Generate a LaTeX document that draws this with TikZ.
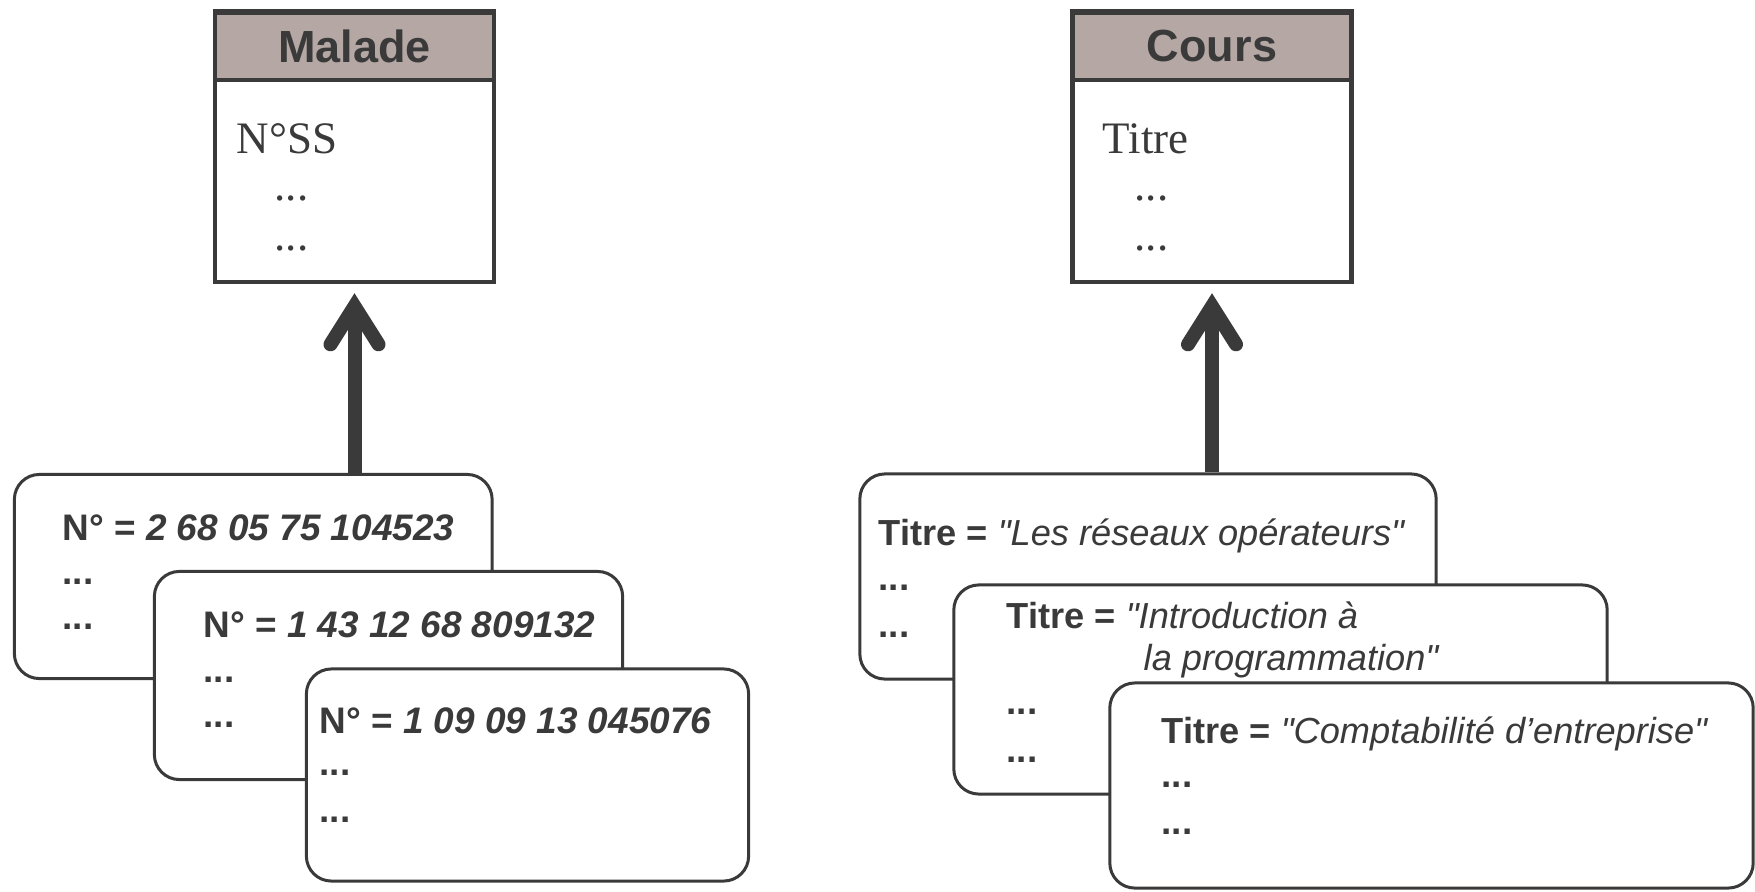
\documentclass[tikz,border=0pt]{standalone}
\usepackage{fontspec}
\setmainfont{Liberation Serif}
\setsansfont{Liberation Sans}[Ligatures=TeXOff]
\usetikzlibrary{calc}
\definecolor{ink}{RGB}{58,58,58}
\definecolor{head}{RGB}{180,167,164}
\begin{document}
\begin{tikzpicture}[x=0.01cm,y=-0.01cm,
 classbox/.style={draw=ink, line width=0.045cm, fill=white, inner sep=0, minimum width=2.79cm, minimum height=2.71cm},
 classhead/.style={draw=ink, line width=0.045cm, fill=head, inner sep=0, minimum width=2.79cm, minimum height=0.67cm, font=\sffamily\bfseries\fontsize{12.8}{14}\selectfont, text=ink},
 card/.style={draw=ink, line width=0.03cm, fill=white, rounded corners=0.25cm, inner sep=0},
 cardtext/.style={anchor=base west, inner sep=0, font=\sffamily\fontsize{10.5}{12}\selectfont, text=ink},
 titletext/.style={anchor=base west, inner sep=0, font=\sffamily\fontsize{10.3}{12}\selectfont, text=ink},
 attr/.style={anchor=base west, inner sep=0, font=\fontsize{12.8}{14}\selectfont, text=ink},
 shaft/.style={draw=ink, line width=0.14cm},
 barb/.style={draw=ink, line width=0.14cm, line cap=round, line join=miter}]
\useasboundingbox (0,0) rectangle (1755,891);

% ---- class boxes
\node[classbox] (maladebox) at (354.5,146.5) {};
\node[classhead] (malade) at (354.5,46.5) {Malade};
\node[attr] (nss) at (236,153) {N°SS};
\node[attr] (md1) at (274,201) {...};
\node[attr] (md2) at (274,251) {...};

\node[classbox] (coursbox) at (1212,146.5) {};
\node[classhead] (cours) at (1212,46.5) {Cours};
\node[attr] (titre) at (1102,153) {Titre};
\node[attr] (cd1) at (1134,201) {...};
\node[attr] (cd2) at (1134,251) {...};

% ---- left cards
\node[card, minimum width=4.775cm, minimum height=2.04cm] (m1) at (253.25,576.5) {};
\node[cardtext] (m1t) at (62,540) {\textbf{N° = \itshape 2 68 05 75 104523}};
\node[cardtext] (m1d1) at (62,584) {\textbf{...}};
\node[cardtext] (m1d2) at (62,629) {\textbf{...}};

\node[card, minimum width=4.68cm, minimum height=2.08cm] (m2) at (388.5,675.5) {};
\node[cardtext] (m2t) at (203,637) {\textbf{N° = \itshape 1 43 12 68 809132}};
\node[cardtext] (m2d1) at (203,682) {\textbf{...}};
\node[cardtext] (m2d2) at (203,727) {\textbf{...}};

\node[card, minimum width=4.42cm, minimum height=2.12cm] (m3) at (527.5,775) {};
\node[cardtext] (m3t) at (319,733) {\textbf{N° = \itshape 1 09 09 13 045076}};
\node[cardtext] (m3d1) at (319,775) {\textbf{...}};
\node[cardtext] (m3d2) at (319,822) {\textbf{...}};

% ---- right cards
\node[card, minimum width=5.76cm, minimum height=2.05cm] (r1) at (1148,576.5) {};
\node[titletext] (r1t) at (878,545) {\textbf{Titre =} \textit{"Les réseaux opérateurs"}};
\node[cardtext] (r1d1) at (878,590) {\textbf{...}};
\node[cardtext] (r1d2) at (878,637) {\textbf{...}};

\node[card, minimum width=6.53cm, minimum height=2.09cm] (r2) at (1280.5,689.5) {};
\node[titletext] (r2t) at (1006,628) {\textbf{Titre =} \textit{"Introduction à}};
\node[titletext] (r2t2) at (1143,670) {\textit{la programmation"}};
\node[cardtext] (r2d1) at (1006,714) {\textbf{...}};
\node[cardtext] (r2d2) at (1006,762) {\textbf{...}};

\node[card, minimum width=6.43cm, minimum height=2.05cm] (r3) at (1431.5,785.5) {};
\node[titletext] (r3t) at (1161,743) {\textbf{Titre =} \textit{"Comptabilité d’entreprise"}};
\node[cardtext] (r3d1) at (1161,787) {\textbf{...}};
\node[cardtext] (r3d2) at (1161,834) {\textbf{...}};

% ---- arrows
\coordinate (tipL) at ($(maladebox.south)+(0,22)$);
\draw[shaft] (m1.north -| tipL) -- (tipL);
\draw[barb] ($(tipL)+(-24,38)$) -- (tipL) -- ($(tipL)+(24,38)$);

\coordinate (tipR) at ($(coursbox.south)+(0,22)$);
\draw[shaft] (r1.north -| tipR) -- (tipR);
\draw[barb] ($(tipR)+(-24,38)$) -- (tipR) -- ($(tipR)+(24,38)$);
\end{tikzpicture}
\end{document}
